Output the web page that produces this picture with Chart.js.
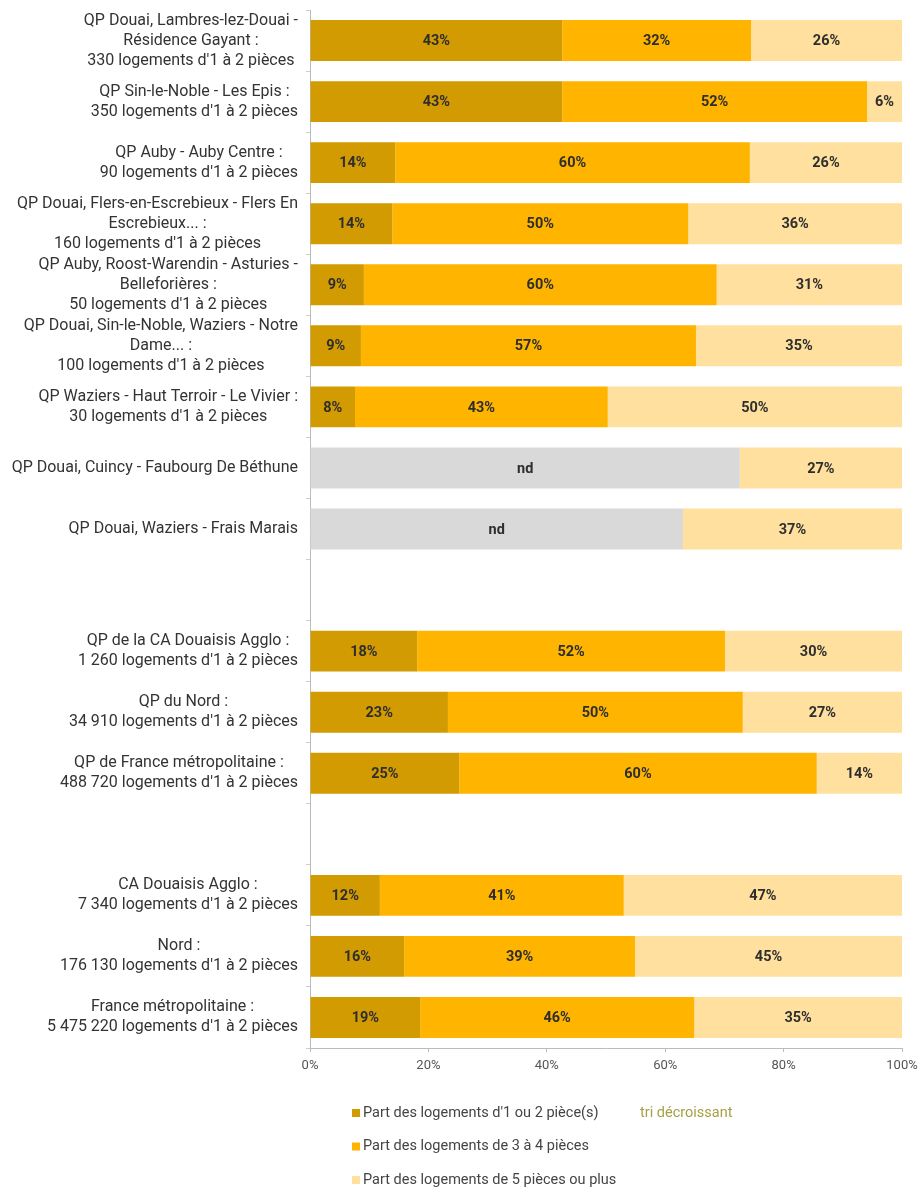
<!DOCTYPE html>
<html lang="fr">
<head>
<meta charset="utf-8">
<title>Taille des logements</title>
<script src="https://cdn.jsdelivr.net/npm/chart.js@4.4.1/dist/chart.umd.min.js"></script>
<style>
    html, body { margin: 0; padding: 0; background: #fff; }
    #wrap { position: relative; width: 919px; height: 1189px; }
</style>
</head>
<body>
<div id="wrap"><canvas id="chart" width="919" height="1189"></canvas></div>
<script>
// Libellés des territoires (lignes vides = séparateurs)
const categories = [
    ['QP Douai, Lambres-lez-Douai -', 'Résidence Gayant :', '330 logements d\'1 à 2 pièces'],
    ['QP Sin-le-Noble - Les Epis :', '350 logements d\'1 à 2 pièces'],
    ['QP Auby - Auby Centre :', '90 logements d\'1 à 2 pièces'],
    ['QP Douai, Flers-en-Escrebieux - Flers En', 'Escrebieux... :', '160 logements d\'1 à 2 pièces'],
    ['QP Auby, Roost-Warendin - Asturies -', 'Belleforières :', '50 logements d\'1 à 2 pièces'],
    ['QP Douai, Sin-le-Noble, Waziers - Notre', 'Dame... :', '100 logements d\'1 à 2 pièces'],
    ['QP Waziers - Haut Terroir - Le Vivier :', '30 logements d\'1 à 2 pièces'],
    'QP Douai, Cuincy - Faubourg De Béthune',
    'QP Douai, Waziers - Frais Marais',
    '',
    ['QP de la CA Douaisis Agglo :', '1 260 logements d\'1 à 2 pièces'],
    ['QP du Nord :', '34 910 logements d\'1 à 2 pièces'],
    ['QP de France métropolitaine :', '488 720 logements d\'1 à 2 pièces'],
    '',
    ['CA Douaisis Agglo :', '7 340 logements d\'1 à 2 pièces'],
    ['Nord :', '176 130 logements d\'1 à 2 pièces'],
    ['France métropolitaine :', '5 475 220 logements d\'1 à 2 pièces']
];

// Parts en %
const part1a2 = [42.6, 42.6, 14.4, 13.9, 9.1, 8.6, 7.6, null, null, null, 18.1, 23.3, 25.2, null, 11.8, 15.9, 18.6];
const part3a4 = [31.9, 51.5, 59.9, 50.0, 59.6, 56.6, 42.7, null, null, null, 52.0, 49.8, 60.4, null, 41.2, 39.0, 46.3];
const partNd = [null, null, null, null, null, null, null, 72.6, 63.0, null, null, null, null, null, null, null, null];
const part5plus = [25.5, 5.9, 25.7, 36.1, 31.3, 34.8, 49.7, 27.4, 37.0, null, 29.9, 26.9, 14.4, null, 47.0, 45.1, 35.1];

const seriesNames = [
    'Part des logements d\'1 ou 2 pièce(s)',
    'Part des logements de 3 à 4 pièces',
    'nd',
    'Part des logements de 5 pièces ou plus'
];
const seriesColors = ['#d39b02', '#ffb500', '#d9d9d9', '#ffe09e'];
const xTicks = [0, 20, 40, 60, 80, 100];

const FONT = 'Roboto';

/**
 * Étiquettes de l'axe vertical : bloc aligné à droite, lignes centrées
 */
const yLabelsPlugin = {
    id: 'yLabels',
    afterDraw(chart) {
        const ctx = chart.ctx;
        const scale = chart.scales.y;
        const lh = 20;
        ctx.save();
        ctx.font = '16px ' + FONT;
        ctx.fillStyle = '#333';
        ctx.textAlign = 'center';
        ctx.textBaseline = 'middle';
        categories.forEach((label, i) => {
            const lines = Array.isArray(label) ? label : [label];
            if (!lines[0]) return;
            const maxW = Math.max(...lines.map(l => ctx.measureText(l).width));
            const cx = scale.right - 12 - maxW / 2;
            const y0 = scale.getPixelForTick(i) - (lines.length - 1) * lh / 2;
            lines.forEach((l, k) => ctx.fillText(l, cx, y0 + k * lh));
        });
        ctx.restore();
    }
};

/**
 * Valeurs au centre des segments
 */
const valueLabelsPlugin = {
    id: 'valueLabels',
    afterDatasetsDraw(chart) {
        const ctx = chart.ctx;
        ctx.save();
        ctx.font = 'bold 14.5px ' + FONT;
        ctx.fillStyle = '#2e2e2e';
        ctx.textAlign = 'center';
        ctx.textBaseline = 'middle';
        chart.data.datasets.forEach((ds, di) => {
            const meta = chart.getDatasetMeta(di);
            meta.data.forEach((bar, i) => {
                const v = ds.data[i];
                if (v === null || v === undefined) return;
                const p = bar.getCenterPoint();
                const txt = ds.label === 'nd' ? 'nd' : Math.round(v) + '%';
                ctx.fillText(txt, p.x, p.y + 1);
            });
        });
        ctx.restore();
    }
};

/**
 * Légende verticale sous le graphique
 */
const legendPlugin = {
    id: 'customLegend',
    afterDraw(chart) {
        const ctx = chart.ctx;
        const x0 = chart.chartArea.left + 42;
        const top = chart.chartArea.bottom + 65;
        const step = 33.5;
        ctx.save();
        ctx.font = '14.5px ' + FONT;
        ctx.textBaseline = 'middle';
        ctx.textAlign = 'left';
        let row = 0;
        chart.data.datasets.forEach(ds => {
            if (ds.label === 'nd') return;
            const y = top + row * step;
            ctx.fillStyle = ds.backgroundColor;
            ctx.fillRect(x0, y - 4, 8, 8);
            ctx.fillStyle = '#444';
            ctx.fillText(ds.label, x0 + 11, y);
            row++;
        });
        ctx.fillStyle = '#a89f45';
        ctx.fillText('tri décroissant', x0 + 288, top);
        ctx.restore();
    }
};

const datasets = [part1a2, part3a4, partNd, part5plus].map((values, i) => ({
    label: seriesNames[i],
    data: values,
    backgroundColor: seriesColors[i],
    borderWidth: 0,
    categoryPercentage: 1,
    barPercentage: 0.67
}));

new Chart(document.getElementById('chart'), {
    type: 'bar',
    data: { labels: categories, datasets: datasets },
    options: {
        indexAxis: 'y',
        responsive: false,
        animation: false,
        layout: { padding: { top: 10, right: 17, left: 0, bottom: 0 } },
        plugins: {
            legend: { display: false },
            tooltip: { enabled: false }
        },
        scales: {
            x: {
                stacked: true,
                min: 0,
                max: 100,
                afterBuildTicks: scale => {
                    scale.ticks = xTicks.map(v => ({ value: v }));
                },
                afterFit: scale => {
                    scale.height = 141;
                    scale.paddingLeft = 0;
                    scale.paddingRight = 0;
                },
                ticks: {
                    color: '#555',
                    padding: 6,
                    font: { family: FONT, size: 13 },
                    callback: v => v + '%'
                },
                grid: { drawOnChartArea: false, tickLength: 4, color: '#bbb' },
                border: { color: '#bbb' }
            },
            y: {
                stacked: true,
                afterFit: scale => { scale.width = 310; },
                ticks: { display: false },
                grid: { drawOnChartArea: false, offset: true, tickLength: 4, color: '#ccc' },
                border: { color: '#bbb' }
            }
        }
    },
    plugins: [yLabelsPlugin, valueLabelsPlugin, legendPlugin]
});
</script>
</body>
</html>
